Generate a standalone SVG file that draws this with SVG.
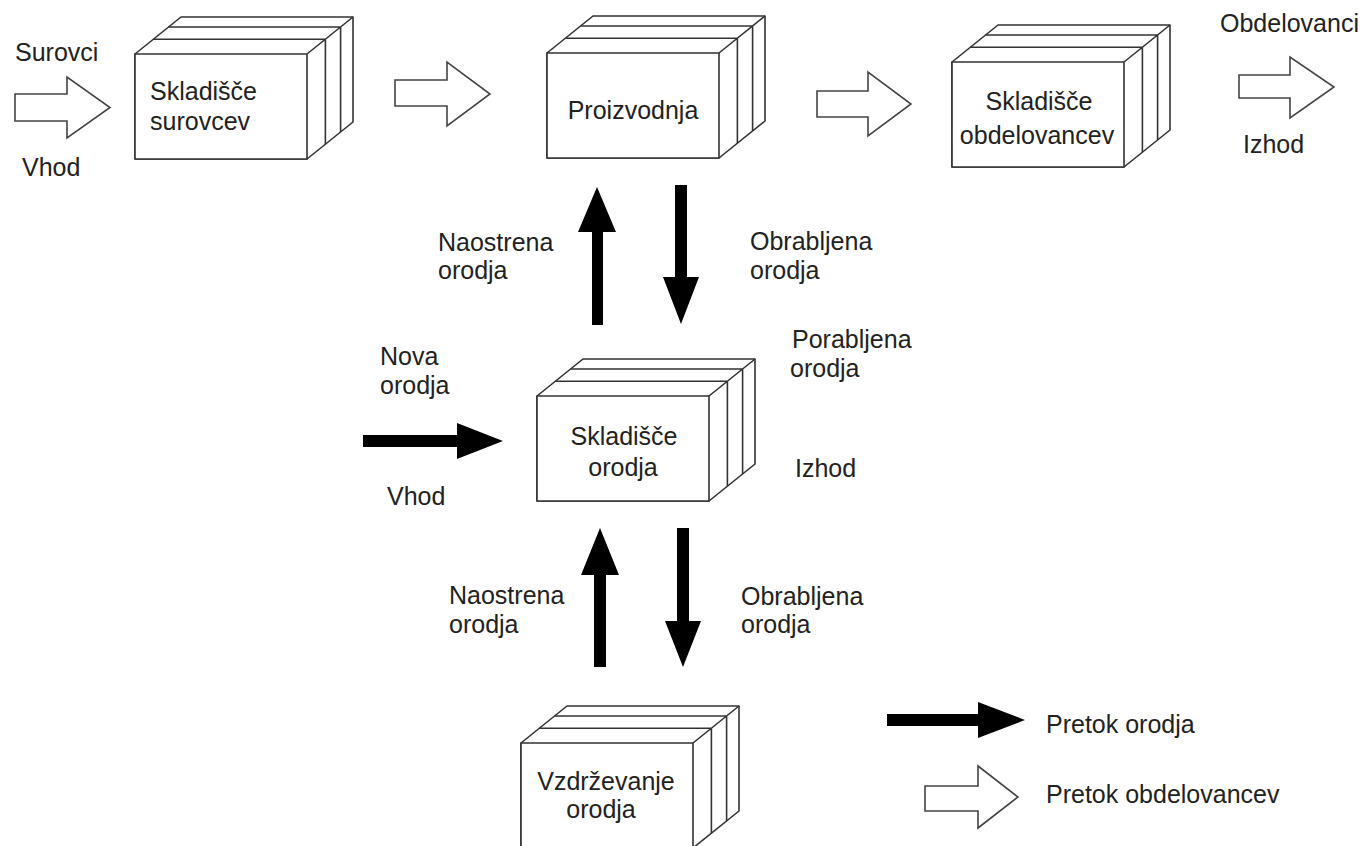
<svg xmlns="http://www.w3.org/2000/svg" xmlns:xlink="http://www.w3.org/1999/xlink" width="1367" height="846" viewBox="0 0 1367 846">
<style>
.t{font-family:"Liberation Sans",Arial,sans-serif;font-size:25px;fill:#222}
.c{text-anchor:middle}
.bx{fill:#fff;stroke:#333;stroke-width:1.6;stroke-linejoin:round}
.ln{fill:none;stroke:#333;stroke-width:1.6}
.ha{fill:#fff;stroke:#444;stroke-width:1.6;stroke-linejoin:miter}
.fa{fill:#000;stroke:none}
</style>
<defs>
<g id="box">
<path class="bx" d="M0,0 L46,-37 L218,-37 L218,68 L172,105 L0,105 Z"/>
<rect class="bx" x="0" y="0" width="172" height="105"/>
<path class="ln" d="M172,0 L218,-37 M18.4,-14.8 H190.4 V90.2 M33.6,-27 H205.6 V78"/>
</g>
</defs>
<rect width="1367" height="846" fill="#fff"/>

<g id="connectors">
<polygon class="ha" points="15,94 67,94 67,77 110,107.5 67,138 67,121 15,121"/>
<polygon class="ha" points="395,80 447,80 447,62 490,94 447,126 447,106 395,106"/>
<polygon class="ha" points="817,91 868,91 868,72 911,104 868,136 868,117 817,117"/>
<polygon class="ha" points="1239,75 1290,75 1290,57 1334,87 1290,118 1290,98 1239,98"/>
<polygon class="fa" points="592,325 592,232 578,232 597,187 616,232 603,232 603,325"/>
<polygon class="fa" points="675,185 687,185 687,277 699,277 681,324 663,277 675,277"/>
<polygon class="fa" points="594,667 594,575 581,575 600,528 619,575 606,575 606,667"/>
<polygon class="fa" points="677,528 689,528 689,621 701,621 683,667 665,621 677,621"/>
<polygon class="fa" points="363,435 457,435 457,423 503,441 457,459 457,447 363,447"/>
</g>

<g id="n-skladisce-surovcev">
<use xlink:href="#box" href="#box" transform="translate(135,54)"/>
<text class="t" x="150" y="100">Skladišče</text>
<text class="t" x="150" y="130">surovcev</text>
</g>
<g id="n-proizvodnja">
<use xlink:href="#box" href="#box" transform="translate(547,53)"/>
<text class="t c" x="633" y="119">Proizvodnja</text>
</g>
<g id="n-skladisce-obdelovancev">
<use xlink:href="#box" href="#box" transform="translate(952,62)"/>
<text class="t c" x="1039" y="110">Skladišče</text>
<text class="t c" x="1037" y="144">obdelovancev</text>
</g>
<g id="n-skladisce-orodja">
<use xlink:href="#box" href="#box" transform="translate(537,396)"/>
<text class="t c" x="624" y="445">Skladišče</text>
<text class="t c" x="623" y="476">orodja</text>
</g>
<g id="n-vzdrzevanje-orodja">
<use xlink:href="#box" href="#box" transform="translate(521,743)"/>
<text class="t c" x="606" y="790">Vzdrževanje</text>
<text class="t c" x="601" y="818">orodja</text>
</g>

<g id="labels">
<text class="t" x="15" y="61">Surovci</text>
<text class="t" x="22" y="176">Vhod</text>
<text class="t" x="1220" y="32">Obdelovanci</text>
<text class="t" x="1243" y="153">Izhod</text>
<text class="t" x="438" y="251">Naostrena</text>
<text class="t" x="438" y="279">orodja</text>
<text class="t" x="750" y="250">Obrabljena</text>
<text class="t" x="750" y="279">orodja</text>
<text class="t" x="380" y="365">Nova</text>
<text class="t" x="380" y="394">orodja</text>
<text class="t" x="387" y="505">Vhod</text>
<text class="t" x="792" y="348">Porabljena</text>
<text class="t" x="790" y="377">orodja</text>
<text class="t" x="795" y="477">Izhod</text>
<text class="t" x="449" y="604">Naostrena</text>
<text class="t" x="449" y="633">orodja</text>
<text class="t" x="741" y="605">Obrabljena</text>
<text class="t" x="741" y="633">orodja</text>
</g>

<g id="legend">
<polygon class="fa" points="887,714 978,714 978,702 1025,720 978,738 978,726 887,726"/>
<text class="t" x="1046" y="733">Pretok orodja</text>
<polygon class="ha" points="925,786 978,786 978,766 1018,797 978,828 978,811 925,811"/>
<text class="t" x="1046" y="803">Pretok obdelovancev</text>
</g>
</svg>
